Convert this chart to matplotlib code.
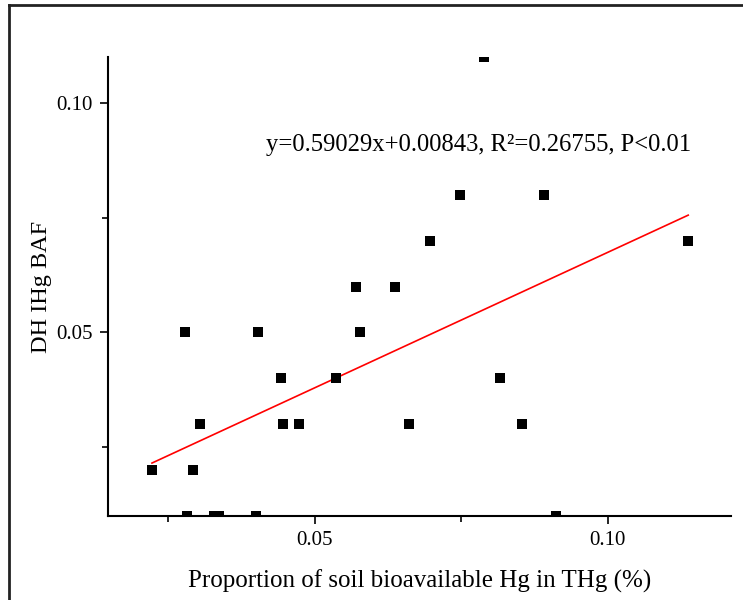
import matplotlib
matplotlib.use("Agg")
import matplotlib.pyplot as plt
from matplotlib.ticker import MultipleLocator, FormatStrFormatter
from matplotlib.lines import Line2D
import numpy as np

# soil bioavailable Hg proportion vs DH IHg BAF
prop_x = [0.0222, 0.0278, 0.0282, 0.0292, 0.0304, 0.0328, 0.0336, 0.0399, 0.0403,
          0.0442, 0.0445, 0.0473, 0.0536, 0.0570, 0.0577, 0.0637, 0.0660, 0.0696,
          0.0747, 0.0788, 0.0816, 0.0853, 0.0891, 0.0911, 0.1137]
baf_y = [0.02, 0.05, 0.01, 0.02, 0.03, 0.01, 0.01, 0.01, 0.05,
         0.04, 0.03, 0.03, 0.04, 0.06, 0.05, 0.06, 0.03, 0.07,
         0.08, 0.11, 0.04, 0.03, 0.08, 0.01, 0.07]
slope, intercept = 0.59029, 0.00843
fit_label = "y=0.59029x+0.00843, R²=0.26755, P<0.01"

plt.rcParams["font.family"] = ["Liberation Serif", "DejaVu Serif"]

fig = plt.figure(figsize=(7.43, 6.0), dpi=100)
ax = fig.add_axes([108 / 743, 1 - 516 / 600, 623 / 743, 459 / 600])

ax.scatter(prop_x, baf_y, marker="s", s=58, color="black", lw=0, zorder=3)
xf = np.array([min(prop_x), max(prop_x)])
ax.plot(xf, slope * xf + intercept, color="red", lw=1.2, zorder=2)

ax.set_xlim(0.0147, 0.121)
ax.set_ylim(0.01, 0.11)
ax.xaxis.set_major_locator(MultipleLocator(0.05))
ax.xaxis.set_minor_locator(MultipleLocator(0.025))
ax.yaxis.set_major_locator(MultipleLocator(0.05))
ax.yaxis.set_minor_locator(MultipleLocator(0.025))
ax.xaxis.set_major_formatter(FormatStrFormatter("%.2f"))
ax.yaxis.set_major_formatter(FormatStrFormatter("%.2f"))
ax.tick_params(which="major", direction="out", length=6, width=1.2, labelsize=15, pad=5)
ax.tick_params(which="minor", direction="out", length=4, width=1.2)

for s in ("top", "right"):
    ax.spines[s].set_visible(False)
for s in ("left", "bottom"):
    ax.spines[s].set_linewidth(1.5)

ax.set_xlabel("Proportion of soil bioavailable Hg in THg (%)", fontsize=18, labelpad=14)
ax.set_ylabel("DH IHg BAF", fontsize=17.5, labelpad=3)
ax.text(0.254, 0.808, fit_label, transform=ax.transAxes, fontsize=17.7, va="center")

# outer frame of the original figure panel (left and top edges only show)
fx, fy = 9 / 743, 1 - 5 / 600
fig.lines.append(Line2D([fx, fx], [0, fy], transform=fig.transFigure, color="#222222", lw=2))
fig.lines.append(Line2D([fx, 1], [fy, fy], transform=fig.transFigure, color="#222222", lw=2))

fig.savefig("out.png", dpi=100)
